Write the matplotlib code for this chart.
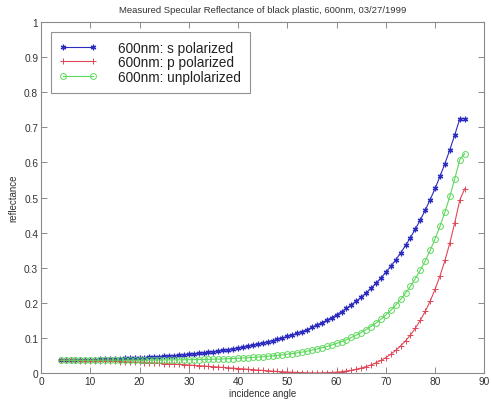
import matplotlib
matplotlib.use("Agg")
import matplotlib.pyplot as plt

plt.rcParams['font.family'] = ['Liberation Sans', 'DejaVu Sans']

# Incidence angles (degrees)
angles = list(range(4, 87))

# s-polarized reflectance
refl_s = [
    0.0363, 0.0364, 0.0365, 0.0367, 0.0370, 0.0373, 0.0377, 0.0381, 0.0385, 0.0390,
    0.0395, 0.0400, 0.0406, 0.0412, 0.0418, 0.0423, 0.0428, 0.0436, 0.0444, 0.0453,
    0.0462, 0.0472, 0.0482, 0.0492, 0.0503, 0.0515, 0.0527, 0.0541, 0.0555, 0.0570,
    0.0586, 0.0603, 0.0621, 0.0641, 0.0662, 0.0685, 0.0709, 0.0735, 0.0762, 0.0791,
    0.0822, 0.0850, 0.0885, 0.0921, 0.0959, 0.0998, 0.1040, 0.1084, 0.1131, 0.1180,
    0.1236, 0.1300, 0.1364, 0.1432, 0.1502, 0.1578, 0.1660, 0.1748, 0.1841, 0.1942,
    0.2048, 0.2160, 0.2285, 0.2416, 0.2556, 0.2706, 0.2870, 0.3039, 0.3224, 0.3420,
    0.3634, 0.3860, 0.4104, 0.4364, 0.4640, 0.4943, 0.5260, 0.5607, 0.5970, 0.6366,
    0.6790, 0.7240, 0.7250,
]

# p-polarized reflectance
refl_p = [
    0.0360, 0.0359, 0.0357, 0.0355, 0.0352, 0.0350, 0.0347, 0.0343, 0.0340, 0.0336,
    0.0332, 0.0328, 0.0323, 0.0318, 0.0313, 0.0308, 0.0302, 0.0296, 0.0289, 0.0282,
    0.0275, 0.0267, 0.0259, 0.0252, 0.0243, 0.0235, 0.0226, 0.0217, 0.0207, 0.0198,
    0.0188, 0.0178, 0.0168, 0.0157, 0.0147, 0.0136, 0.0125, 0.0115, 0.0104, 0.0093,
    0.0082, 0.0072, 0.0062, 0.0052, 0.0043, 0.0034, 0.0026, 0.0019, 0.0012, 0.0007,
    0.0003, 0.0001, 0.0000, 0.0002, 0.0006, 0.0012, 0.0022, 0.0036, 0.0054, 0.0077,
    0.0105, 0.0139, 0.0181, 0.0230, 0.0288, 0.0357, 0.0438, 0.0532, 0.0642, 0.0769,
    0.0915, 0.1083, 0.1278, 0.1499, 0.1756, 0.2048, 0.2385, 0.2769, 0.3207, 0.3710,
    0.4288, 0.4920, 0.5250,
]

# unpolarized reflectance
refl_u = [
    0.0362, 0.0362, 0.0361, 0.0361, 0.0361, 0.0362, 0.0362, 0.0362, 0.0363, 0.0363,
    0.0364, 0.0364, 0.0365, 0.0365, 0.0366, 0.0366, 0.0365, 0.0366, 0.0367, 0.0368,
    0.0369, 0.0370, 0.0371, 0.0372, 0.0373, 0.0375, 0.0377, 0.0379, 0.0381, 0.0384,
    0.0387, 0.0391, 0.0395, 0.0399, 0.0405, 0.0411, 0.0417, 0.0425, 0.0433, 0.0442,
    0.0452, 0.0461, 0.0474, 0.0487, 0.0501, 0.0516, 0.0533, 0.0552, 0.0572, 0.0594,
    0.0620, 0.0651, 0.0682, 0.0717, 0.0754, 0.0795, 0.0841, 0.0892, 0.0948, 0.1010,
    0.1077, 0.1150, 0.1233, 0.1323, 0.1422, 0.1532, 0.1654, 0.1786, 0.1933, 0.2095,
    0.2275, 0.2472, 0.2691, 0.2932, 0.3198, 0.3496, 0.3823, 0.4188, 0.4589, 0.5038,
    0.5539, 0.6080, 0.6250,
]

series_labels = ["600nm: s polarized", "600nm: p polarized", "600nm: unplolarized"]
x_ticks = list(range(0, 91, 10))
y_ticks = [0, 0.1, 0.2, 0.3, 0.4, 0.5, 0.6, 0.7, 0.8, 0.9, 1]
y_tick_labels = ["0", "0.1", "0.2", "0.3", "0.4", "0.5", "0.6", "0.7", "0.8", "0.9", "1"]

fig = plt.figure(figsize=(4.91, 4.06), dpi=100)
ax = fig.add_axes([0.0835, 0.079, 0.903, 0.864])

frame = '#8a8a8a'
txt = '#333333'

asterisk = (6, 2, 0)
ax.plot(angles, refl_s, color='#2b2bc0', lw=0.8, marker=asterisk, ms=4,
        mew=0.9, label=series_labels[0])
ax.plot(angles, refl_p, color='#e04858', lw=0.8, marker='+', ms=4.5,
        mew=0.7, label=series_labels[1])
ax.plot(angles, refl_u, color='#5cd85c', lw=0.8, marker='o', ms=4.2,
        mfc='none', mew=0.7, label=series_labels[2])

ax.set_xlim(0, 90)
ax.set_ylim(0, 1)
ax.set_xticks(x_ticks)
ax.set_yticks(y_ticks)
ax.set_yticklabels(y_tick_labels)
ax.tick_params(direction='in', length=4, width=0.7, color=frame, labelsize=7.3,
               labelcolor=txt, top=True, right=True, pad=2)
for s in ax.spines.values():
    s.set_color(frame)
    s.set_linewidth(0.8)

ax.set_title("Measured Specular Reflectance of black plastic, 600nm, 03/27/1999",
             fontsize=6.8, color=txt, pad=7)
ax.set_xlabel("incidence angle", fontsize=7, color=txt, labelpad=2)
ax.set_ylabel("reflectance", fontsize=7, color=txt, labelpad=4)

leg = ax.legend(loc='upper left', numpoints=2, fontsize=9.8, frameon=True,
                fancybox=False, borderaxespad=0.7, handlelength=2.8,
                handletextpad=1.5, labelspacing=0.05, borderpad=0.65)
leg.get_frame().set_edgecolor('#777777')
leg.get_frame().set_linewidth(0.8)
for t in leg.get_texts():
    t.set_color('#222222')

fig.savefig("out.png", dpi=100)
